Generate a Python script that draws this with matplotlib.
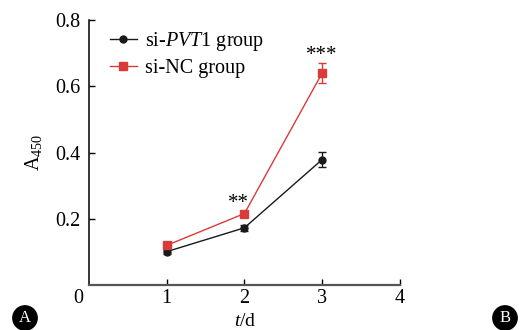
import matplotlib
matplotlib.use("Agg")
import matplotlib.pyplot as plt
from matplotlib.lines import Line2D

plt.rcParams['font.family'] = ['Liberation Serif', 'DejaVu Serif']
plt.rcParams['mathtext.fontset'] = 'custom'
plt.rcParams['mathtext.rm'] = 'Liberation Serif'
plt.rcParams['mathtext.it'] = 'Liberation Serif:italic'

days = [1, 2, 3]
pvt1_vals = [0.101, 0.173, 0.379]
pvt1_err = [0.006, 0.010, 0.022]
nc_vals = [0.120, 0.216, 0.640]
nc_err = [0.006, 0.008, 0.030]
xticks = [1, 2, 3, 4]
yticks = [0.2, 0.4, 0.6, 0.8]
stars = {2: "**", 3: "***"}

fig = plt.figure(figsize=(5.2, 3.3), dpi=100)
ax = fig.add_axes([0.171, 0.136, 0.598, 0.803])

red = '#d93a3a'
black = '#1a1a1a'
ax.errorbar(days, pvt1_vals, yerr=pvt1_err, color=black, marker='o', ms=5,
            lw=1.0, capsize=3, elinewidth=1.0, zorder=3)
ax.errorbar(days, nc_vals, yerr=nc_err, color=red, marker='s', ms=5.5,
            lw=1.0, capsize=3, elinewidth=1.0, zorder=3)

for d, s in stars.items():
    top = max(nc_vals[d - 1] + nc_err[d - 1], pvt1_vals[d - 1] + pvt1_err[d - 1])
    ax.text(d - 0.07 if d == 2 else d, top - 0.005, s, ha='center', va='bottom', fontsize=15)

ax.set_xlim(0, 4)
ax.set_ylim(0, 0.8)
ax.set_xticks(xticks)
ax.set_yticks(yticks)
ax.set_yticklabels([f"{v:.1f}" for v in yticks])
ax.tick_params(direction='in', labelsize=14.5, length=4, width=1)
ax.tick_params(axis='x', pad=3)
ax.tick_params(axis='y', pad=6)
for side in ['top', 'right']:
    ax.spines[side].set_visible(False)
ax.spines['left'].set_linewidth(1.1)
ax.spines['bottom'].set_linewidth(1.6)
ax.spines['bottom'].set_color('#555555')

ax.text(-0.07, -0.012, '0', transform=ax.transData, ha='right', va='top', fontsize=14.5)
fig.text(245 / 520, 0.5 / 330, '$\\it{t}$/d', fontsize=14, ha='center', va='bottom')
ax.set_ylabel('A$_{450}$', fontsize=14.5, labelpad=8)

handles = [Line2D([], [], color=black, marker='o', ms=5, lw=1.0),
           Line2D([], [], color=red, marker='s', ms=5.5, lw=1.0)]
labels = ['si-$\\it{PVT}$1 group', 'si-NC group']
ax.legend(handles, labels, loc='upper left', bbox_to_anchor=(0.03, 1.01), frameon=False,
          fontsize=14.5, handlelength=1.3, handletextpad=0.4, labelspacing=0.3, borderaxespad=0.2)

for x, lab in [(25, 'A'), (505, 'B')]:
    fig.text(x / 520, 1 - 318 / 330, lab, color='white', ha='center', va='center', fontsize=12,
             bbox=dict(boxstyle='circle,pad=0.25', fc='black', ec='black'))

fig.savefig('out.png', dpi=100)
